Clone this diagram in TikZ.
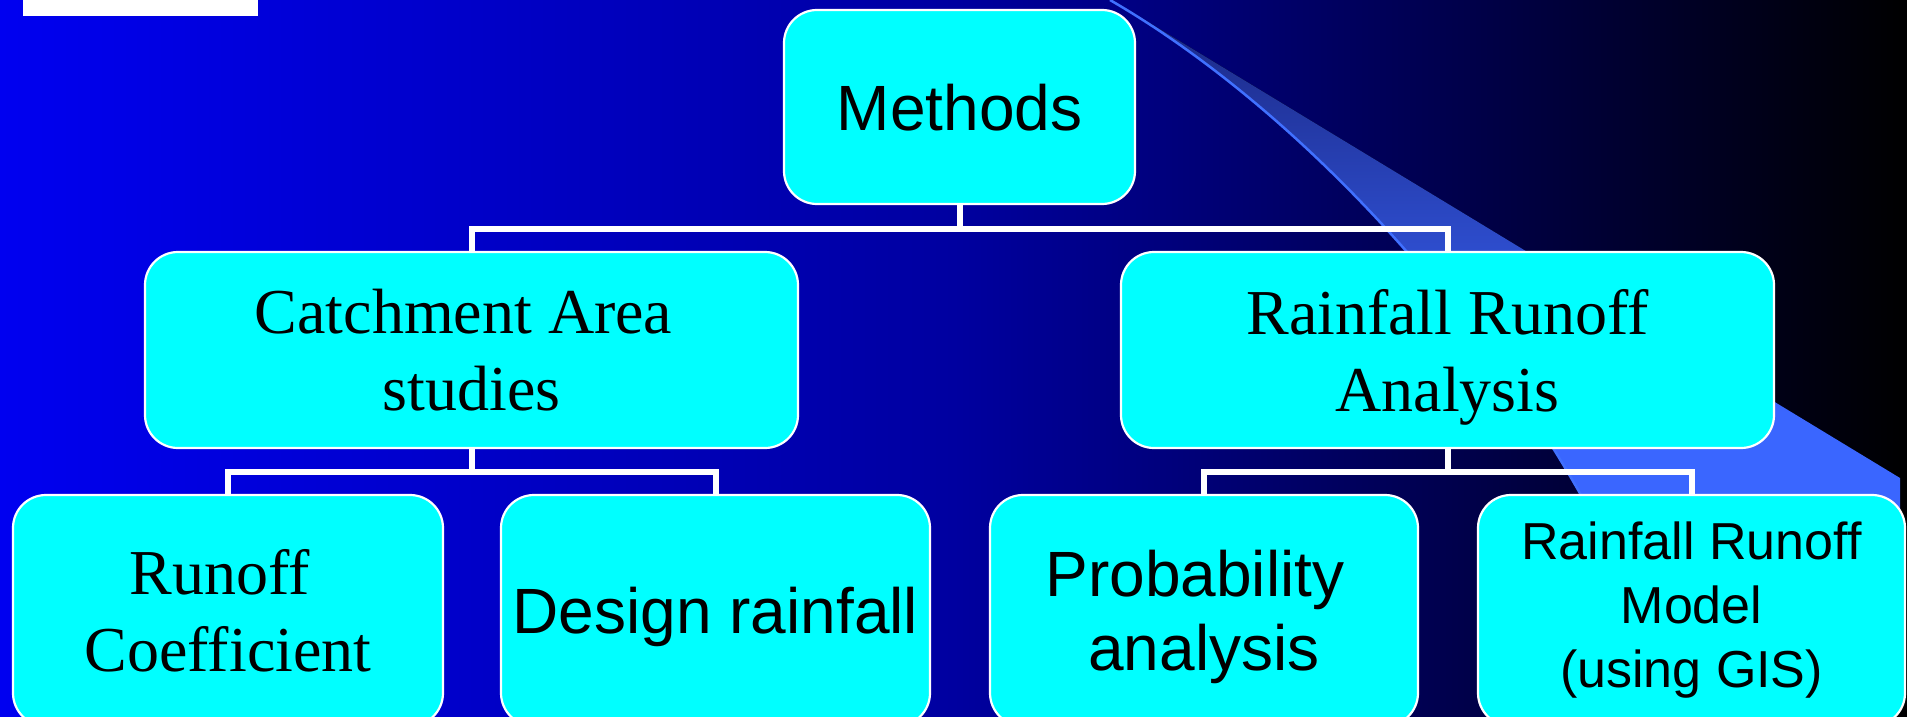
\documentclass[tikz,border=0pt]{standalone}
\usepackage{fontspec}
\newfontfamily\arsf{Liberation Sans}
\newfontfamily\tnrm{Liberation Serif}
\definecolor{bgL}{RGB}{0,0,240}
\definecolor{bgM}{RGB}{0,0,160}
\definecolor{bgR}{RGB}{0,0,0}
\definecolor{swDark}{RGB}{26,38,128}
\definecolor{swBright}{RGB}{58,102,255}
\definecolor{swLine}{RGB}{64,112,255}
\definecolor{boxfill}{RGB}{0,255,255}
\pgfdeclareverticalshading{swoosh}{100bp}{color(0bp)=(swBright); color(36bp)=(swBright); color(75bp)=(swDark); color(100bp)=(swDark)}
\tikzset{
  box/.style={rectangle, rounded corners=33pt, fill=boxfill, draw=white, line width=2.2pt, inner sep=0pt, align=center, text=black, text depth=0pt},
  sans64/.style={font=\arsf\fontsize{64}{74}\selectfont},
  serif64/.style={font=\tnrm\fontsize{64}{77}\selectfont},
  sans52/.style={font=\arsf\fontsize{52}{64}\selectfont},
  conn/.style={draw=white, line width=6pt},
}
\begin{document}
\begin{tikzpicture}[x=1pt,y=-1pt]
\useasboundingbox (0,0) rectangle (1907,717);
\clip (0,0) rectangle (1907,717);
\fill[left color=bgL, right color=bgR, middle color=bgM] (0,0) rectangle (1907,717);
% swoosh
\fill[shading=swoosh] (1112,0) -- (1900,478) -- (1900,530) -- (1600,530) .. controls (1490,320) and (1300,110) .. (1110,0) -- cycle;
\draw[swLine, line width=2.5pt] (1110,0) .. controls (1300,110) and (1490,320) .. (1600,530);
% white bar
\fill[white] (23,0) rectangle (258,16);
% boxes
\node[box, sans64, minimum width=351pt, minimum height=194pt] (m) at (959.5,107) {Methods};
\node[box, serif64, minimum width=653pt, minimum height=196pt] (c) at (471.5,350) {Catchment Area\hspace*{0.25em}\\studies};
\node[box, serif64, minimum width=653pt, minimum height=196pt] (r) at (1447.5,350) {Rainfall Runoff\\Analysis};
\node[box, serif64, minimum width=430pt, minimum height=231pt] (rc) at (228,610.5) {Runoff\hspace*{0.25em}\\Coefficient};
\node[box, sans64, minimum width=429pt, minimum height=231pt] (dr) at (715.5,610.5) {Design rainfall};
\node[box, sans64, minimum width=428pt, minimum height=231pt] (pa) at (1204,610.5) {Probability\hspace*{0.28em}\\analysis};
\node[box, sans52, text depth=, minimum width=427pt, minimum height=231pt] (rm) at (1691.5,610.5) {Rainfall Runoff\\Model\\(using GIS)};
% connectors
\draw[conn] (m.south) -- ++(0,24) -| (c.north);
\draw[conn] (m.south) -- ++(0,24) -| (r.north);
\draw[conn] (c.south) -- ++(0,23) -| (rc.north);
\draw[conn] (c.south) -- ++(0,23) -| (dr.north);
\draw[conn] (r.south) -- ++(0,23) -| (pa.north);
\draw[conn] (r.south) -- ++(0,23) -| (rm.north);
\end{tikzpicture}
\end{document}
